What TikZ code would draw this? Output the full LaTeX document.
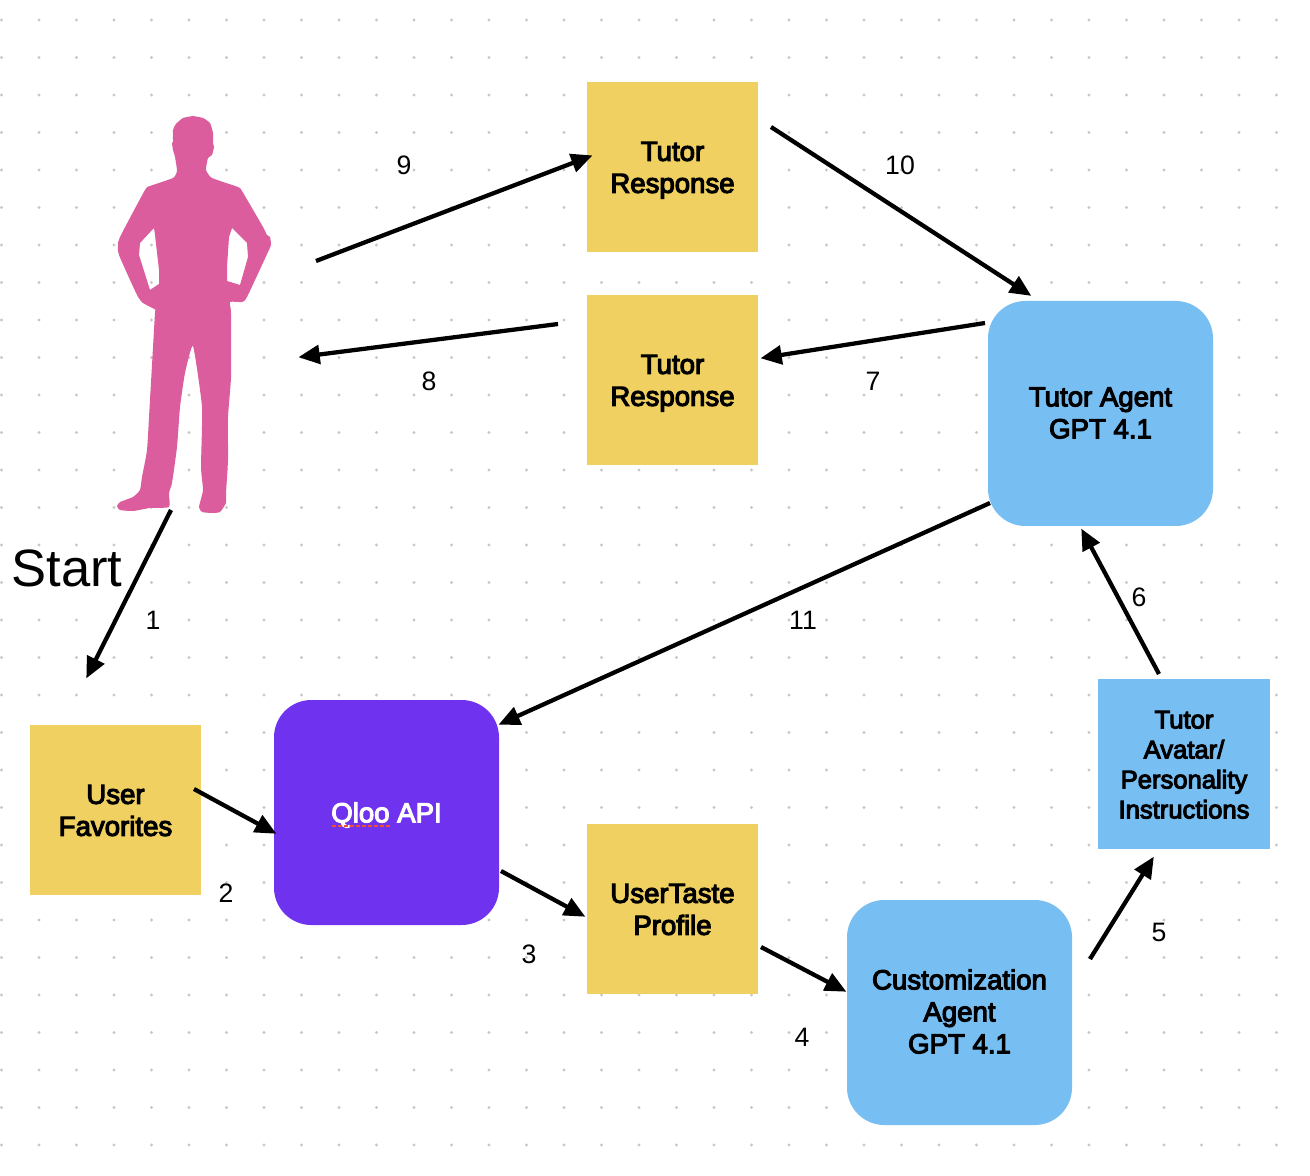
\documentclass[tikz,border=0pt]{standalone}
\usepackage{fontspec}
\setmainfont{Liberation Sans}
\newfontfamily\medfont[FakeBold=4]{Liberation Sans}
\usetikzlibrary{arrows.meta}
\definecolor{stickyY}{HTML}{EFD060}
\definecolor{agentB}{HTML}{77BEF2}
\definecolor{apiP}{HTML}{6F32EE}
\definecolor{personP}{HTML}{DB5D9D}
\definecolor{dotG}{HTML}{C8C8C8}
\definecolor{squig}{HTML}{F0502D}
\newcommand{\boxtext}[2]{\raisebox{#1}[0pt][0pt]{\begin{tabular}{@{}c@{}}#2\end{tabular}}}
\tikzset{
  sticky/.style={fill=stickyY,minimum width=128.25pt,minimum height=127.5pt,inner sep=0pt,font=\fontsize{20.7}{24}\selectfont\medfont},
  agent/.style={fill=agentB,rounded corners=28pt,minimum width=168.75pt,minimum height=168.75pt,inner sep=0pt,font=\fontsize{20.7}{24}\selectfont\medfont},
  conn/.style={line width=3.2pt,draw=black,-{Triangle[length=16pt,width=14pt]},shorten >=-1.2pt},
  num/.style={font=\fontsize{20}{24}\selectfont,inner sep=0pt,text=black},
}
\begin{document}
\begin{tikzpicture}[x=0.75pt,y=-0.75pt]
\useasboundingbox (0,0) rectangle (1310,1176);
\fill[white] (0,0) rectangle (1310,1176);
% dot grid
\foreach \i in {0,...,34}{\foreach \j in {0,...,30}{
  \fill[dotG] ({1.5+37.5*\i},{20+37.5*\j}) circle (1.7);
}}
% person
\fill[personP,even odd rule,line join=round]
 plot[smooth,tension=0.3] coordinates {(193,116) (203,118) (210,123) (213,133) (213,143) (214,147) (212,155) (208,158) (206,170) (212,178) (238,187) (242,191) (263,227) (267,235) (270,237) (271,245) (268,252) (247,297) (242,302) (230,302) (231,313) (231,377) (228,417) (228,460) (226,493) (226,503) (220,512) (212,513) (202,512) (199,507) (203,490) (201,467) (202,407) (193,346) (185,373) (180,407) (177,447) (172,483) (169,493) (169,507) (150,508) (133,511) (120,510) (117,506) (120,502) (133,497) (140,490) (142,477) (147,450) (150,400) (155,313) (156,310) (143,303) (137,295) (119,255) (118,243) (122,233) (145,190) (150,186) (173,178) (177,171) (175,157) (173,150) (172,143) (173,142) (173,130) (176,124) (183,118) (193,116)}
 -- cycle
 (154,228) -- (140,243) -- (139,255) -- (150,290) -- (159,284) -- (159,270) -- (155,235) -- cycle
 (232,228) -- (247,243) -- (248,257) -- (240,285) -- (227,281) -- (227,267) -- (229,237) -- cycle;
\coordinate (person) at (193,315);
% nodes
\node[sticky] (resp1) at (672.5,167) {\boxtext{-7.75pt}{Tutor\\Response}};
\node[sticky] (resp2) at (672.5,380) {\boxtext{-7.75pt}{Tutor\\Response}};
\node[sticky] (fav) at (115.5,810) {\boxtext{-7.75pt}{User\\Favorites}};
\node[sticky] (taste) at (672.5,909) {\boxtext{-7.75pt}{UserTaste\\Profile}};
\node[agent] (tutor) at (1100.5,413.5) {\boxtext{-7pt}{Tutor Agent\\GPT 4.1}};
\node[agent] (cust) at (959.5,1012.5) {\boxtext{-7pt}{Customization\\Agent\\GPT 4.1}};
\node[agent,fill=apiP,text=white] (qloo) at (386.5,812.5) {\boxtext{-7.75pt}{Qloo API}};
\node[sticky,fill=agentB,minimum width=129pt,font=\fontsize{19.2}{22.5}\selectfont\medfont] (avatar) at (1184,764) {\boxtext{-7.75pt}{Tutor\\Avatar/\\Personality\\Instructions}};
\draw[squig,line width=1.5pt,dash pattern=on 3pt off 1.5pt] (332,826) coordinate (sqa) -- (390,826) coordinate (sqb);
\node[font=\fontsize{39.4}{44}\selectfont,inner sep=0pt] (start) at (67,568) {Start};
% connector ends
\coordinate (a1) at (171,510); \coordinate (b1) at (87,677);
\coordinate (a2) at (194,789); \coordinate (b2) at (275,833);
\coordinate (a3) at (501,871); \coordinate (b3) at (584,916);
\coordinate (a4) at (761,947); \coordinate (b4) at (845,991);
\coordinate (a5) at (1090,959); \coordinate (b5) at (1153,858);
\coordinate (a6) at (1159,674); \coordinate (b6) at (1082,530);
\coordinate (a7) at (985,323); \coordinate (b7) at (762,358);
\coordinate (a8) at (558,324); \coordinate (b8) at (300,357);
\coordinate (a9) at (316,261); \coordinate (b9) at (591,156);
\coordinate (a10) at (771,127); \coordinate (b10) at (1030,295);
\coordinate (a11) at (990,503); \coordinate (b11) at (500,724);
\foreach \k in {1,...,11}{\draw[conn] (a\k) -- (b\k);}
% numbers
\node[num] (n1) at (153,620) {1};
\node[num] (n2) at (226,893) {2};
\node[num] (n3) at (529,954) {3};
\node[num] (n4) at (802,1037) {4};
\node[num] (n5) at (1159,932) {5};
\node[num] (n6) at (1139,597) {6};
\node[num] (n7) at (873,381) {7};
\node[num] (n8) at (429,381) {8};
\node[num] (n9) at (404,165) {9};
\node[num] (n10) at (900,165) {10};
\node[num] (n11) at (803,620) {11};
\end{tikzpicture}
\end{document}
